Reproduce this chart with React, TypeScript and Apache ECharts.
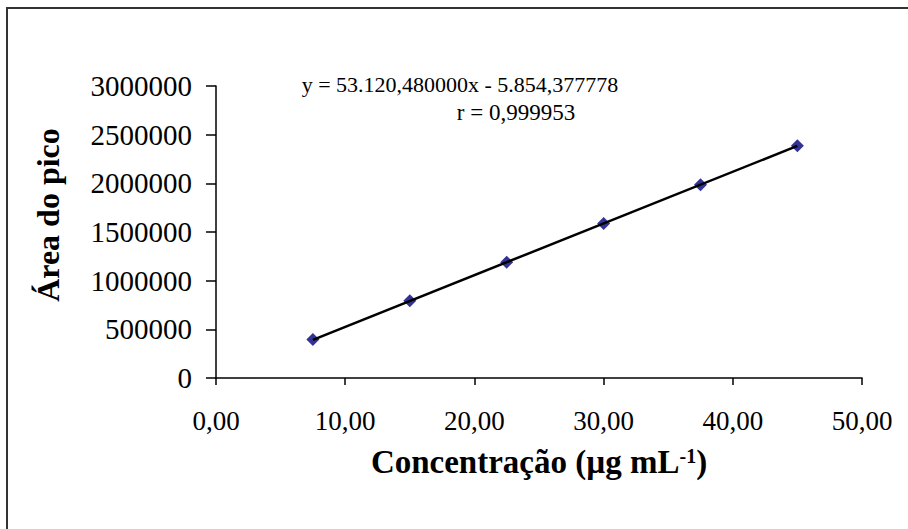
import React, { useEffect, useRef } from "react";
import * as echarts from "echarts";

// ---- data ----
const CONCENTRATIONS = [7.5, 15, 22.5, 30, 37.5, 45];
const PEAK_AREAS = [395000, 793000, 1190000, 1588000, 1985000, 2385000];
const TREND_X = [7.5, 45];
const TREND_Y = [392549, 2384567];
const X_TICKS = [0, 10, 20, 30, 40, 50];
const Y_TICKS = [0, 500000, 1000000, 1500000, 2000000, 2500000, 3000000];
const EQUATION = "y = 53.120,480000x - 5.854,377778";
const R_TEXT = "r = 0,999953";
const X_TITLE = "Concentração (µg mL";
const X_TITLE_SUP = "-1";
const Y_TITLE = "Área do pico";

const SERIF = "'Liberation Serif', 'Times New Roman', serif";

export default function App() {
  const ref = useRef<HTMLDivElement>(null);

  useEffect(() => {
    if (!ref.current) return;
    const chart = echarts.init(ref.current, null, { renderer: "svg" });
    const scatterData = CONCENTRATIONS.map((c, i) => [c, PEAK_AREAS[i]]);
    const trendData = TREND_X.map((c, i) => [c, TREND_Y[i]]);

    chart.setOption({
      animation: false,
      backgroundColor: "#ffffff",
      textStyle: { fontFamily: SERIF },
      grid: { left: 216, right: 46, top: 86, bottom: 151 },
      xAxis: {
        type: "value",
        min: X_TICKS[0],
        max: X_TICKS[X_TICKS.length - 1],
        interval: X_TICKS[1] - X_TICKS[0],
        splitLine: { show: false },
        axisLine: { lineStyle: { color: "#000", width: 1.5 } },
        axisTick: { length: 7, lineStyle: { color: "#000", width: 1.5 } },
        axisLabel: {
          color: "#000",
          fontSize: 27,
          fontFamily: SERIF,
          margin: 29,
          formatter: (v: number) => v.toFixed(2).replace(".", ","),
        },
        name: `{a|${X_TITLE}}{s|${X_TITLE_SUP}}{a|)}`,
        nameLocation: "middle",
        nameGap: 66,
        nameTextStyle: {
          rich: {
            a: { fontFamily: SERIF, fontSize: 33, fontWeight: "bold", color: "#000", lineHeight: 36 },
            s: { fontFamily: SERIF, fontSize: 20, fontWeight: "bold", color: "#000", lineHeight: 36, padding: [0, 0, 13, 0] },
          },
        },
      },
      yAxis: {
        type: "value",
        min: Y_TICKS[0],
        max: Y_TICKS[Y_TICKS.length - 1],
        interval: Y_TICKS[1] - Y_TICKS[0],
        splitLine: { show: false },
        axisLine: { show: true, lineStyle: { color: "#000", width: 1.5 } },
        axisTick: { show: true, length: 10, lineStyle: { color: "#000", width: 1.5 } },
        axisLabel: {
          color: "#000",
          fontSize: 29,
          fontFamily: SERIF,
          margin: 24,
          formatter: (v: number) => String(v),
        },
        name: Y_TITLE,
        nameLocation: "middle",
        nameGap: 152,
        nameTextStyle: {
          fontFamily: SERIF,
          fontSize: 32,
          fontWeight: "bold",
          color: "#000",
          padding: [0, 0, 0, 34],
        },
      },
      series: [
        {
          type: "scatter",
          data: scatterData,
          symbol: "diamond",
          symbolSize: 13,
          itemStyle: { color: "#00007a" },
          z: 2,
        },
        {
          type: "line",
          data: trendData,
          symbol: "none",
          lineStyle: { color: "#000", width: 2.5 },
          z: 3,
        },
      ],
      graphic: [
        {
          type: "line",
          shape: { x1: 6, y1: 8, x2: 908, y2: 8 },
          style: { stroke: "#333", lineWidth: 2 },
        },
        {
          type: "line",
          shape: { x1: 7, y1: 8, x2: 7, y2: 529 },
          style: { stroke: "#333", lineWidth: 2 },
        },
        {
          type: "text",
          x: 460,
          y: 84,
          style: {
            text: EQUATION,
            font: `22px ${SERIF}`,
            fill: "#000",
            textAlign: "center",
            textVerticalAlign: "middle",
          },
        },
        {
          type: "text",
          x: 516,
          y: 112,
          style: {
            text: R_TEXT,
            font: `23px ${SERIF}`,
            fill: "#000",
            textAlign: "center",
            textVerticalAlign: "middle",
          },
        },
      ],
    });

    return () => chart.dispose();
  }, []);

  return (
    <div
      ref={ref}
      style={{ position: "fixed", left: 0, top: 0, width: 908, height: 529 }}
    />
  );
}
